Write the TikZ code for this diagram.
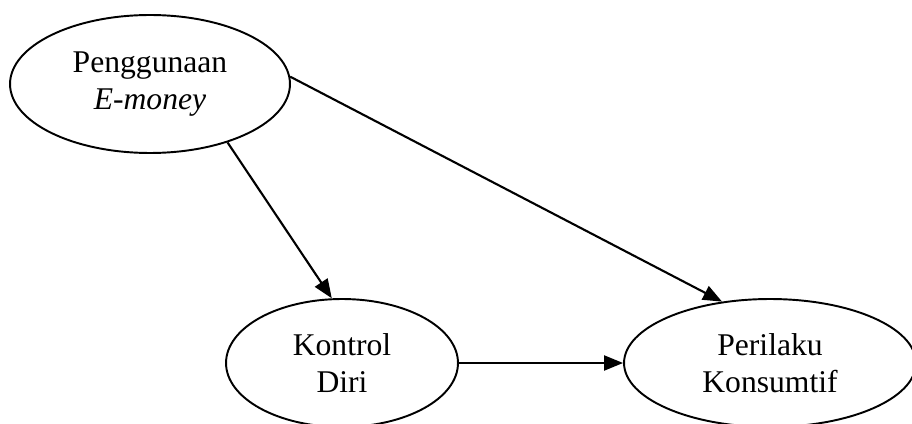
\documentclass[tikz,border=0pt]{standalone}
\usepackage{fontspec}
\setmainfont{Liberation Serif}
\usetikzlibrary{shapes.geometric,arrows.meta}
\tikzset{
  var/.style={draw, ellipse, line width=1.1pt, inner sep=0pt, align=center,
    font=\fontsize{18}{21}\selectfont},
  path/.style={->, line width=1.2pt},
}
\begin{document}
\begin{tikzpicture}[x=0.02cm, y=0.02cm, >={Triangle[length=0.38cm, width=0.3cm]}]
    \useasboundingbox (0,0) rectangle (912,423);

    \node[var, minimum width=5.6cm, minimum height=2.76cm] (emoney) at (150,339) {Penggunaan\\\textit{E-money}};
    \node[var, minimum width=4.64cm, minimum height=2.56cm] (diri) at (342,60) {Kontrol\\Diri};
    \node[var, minimum width=5.84cm, minimum height=2.56cm] (konsum) at (770,60) {Perilaku\\Konsumtif};

    \draw[path] (emoney.-37) -- (diri.99);
    \draw[path] (emoney.3) -- (konsum.128);
    \draw[path] (diri.east) -- (konsum.west);
\end{tikzpicture}
\end{document}
